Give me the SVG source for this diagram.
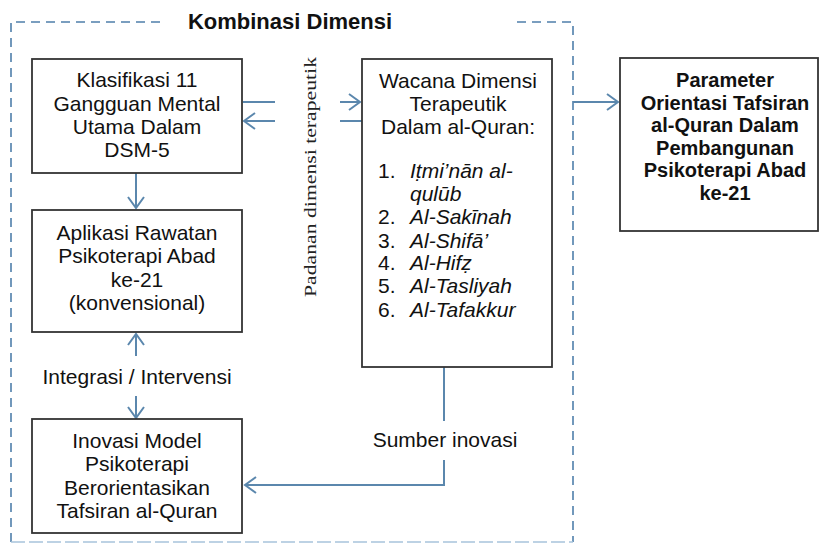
<svg xmlns="http://www.w3.org/2000/svg" width="820" height="547" viewBox="0 0 820 547">
<defs>
<marker id="ah" markerUnits="userSpaceOnUse" markerWidth="30" markerHeight="30" viewBox="-15 -15 30 30" refX="0" refY="0" orient="auto">
<path d="M-11,-8 L0,0 L-11,8" fill="none" stroke="#5b87ad" stroke-width="2"/>
</marker>
<style>
.box{fill:#fff;stroke:#333;stroke-width:1.8}
.t{font-family:"Liberation Sans",Arial,sans-serif;font-size:21px;fill:#111;text-anchor:middle}
.tb{font-family:"Liberation Sans",Arial,sans-serif;font-size:20px;font-weight:bold;fill:#111;text-anchor:middle}
.tl{font-family:"Liberation Sans",Arial,sans-serif;font-size:21px;fill:#111}
.it{font-style:italic}
.c{fill:none;stroke:#5b87ad;stroke-width:2}
.dash{fill:none;stroke:#4f7fab;stroke-width:1.6;stroke-dasharray:9 6}
</style>
</defs>
<rect width="820" height="547" fill="#fff"/>

<g id="frame">
<path class="dash" d="M160,22 H11 V542"/>
<path class="dash" d="M517,22 H573 V542"/>
<path d="M11,542 H573" fill="none" stroke="#a8c4dc" stroke-width="1.6" stroke-dasharray="14 4"/>
<text x="290" y="29" class="tb" style="font-size:22px">Kombinasi Dimensi</text>
</g>

<g id="connectors">
<line class="c" x1="136" y1="173" x2="136" y2="208" marker-end="url(#ah)"/>
<line class="c" x1="136" y1="356" x2="136" y2="334" marker-end="url(#ah)"/>
<line class="c" x1="136" y1="396" x2="136" y2="418" marker-end="url(#ah)"/>
<line class="c" x1="243" y1="102" x2="275" y2="102"/>
<line class="c" x1="275" y1="121" x2="244" y2="121" marker-end="url(#ah)"/>
<line class="c" x1="340" y1="102" x2="360" y2="102" marker-end="url(#ah)"/>
<line class="c" x1="340" y1="121" x2="362" y2="121"/>
<line class="c" x1="573" y1="102" x2="618" y2="102" marker-end="url(#ah)"/>
<line class="c" x1="444" y1="367" x2="444" y2="421"/>
<polyline class="c" points="444,460 444,485 245,485" marker-end="url(#ah)"/>
<text x="137" y="384" class="t">Integrasi / Intervensi</text>
<text x="445" y="447" class="t">Sumber inovasi</text>
<text transform="translate(316,177) rotate(-90)" text-anchor="middle" font-family="'Liberation Serif','Times New Roman',serif" font-size="17" fill="#222" textLength="240" lengthAdjust="spacingAndGlyphs">Padanan dimensi terapeutik</text>
</g>

<g id="klasifikasi">
<rect class="box" x="32" y="59" width="210" height="114"/>
<text class="t" x="137" y="87">Klasifikasi 11</text>
<text class="t" x="137" y="110.5">Gangguan Mental</text>
<text class="t" x="137" y="134">Utama Dalam</text>
<text class="t" x="137" y="157">DSM-5</text>
</g>

<g id="aplikasi">
<rect class="box" x="32" y="210" width="210" height="122"/>
<text class="t" x="137" y="240">Aplikasi Rawatan</text>
<text class="t" x="137" y="263">Psikoterapi Abad</text>
<text class="t" x="137" y="287">ke-21</text>
<text class="t" x="137" y="310">(konvensional)</text>
</g>

<g id="inovasi">
<rect class="box" x="32" y="419" width="210" height="114"/>
<text class="t" x="137" y="448">Inovasi Model</text>
<text class="t" x="137" y="471">Psikoterapi</text>
<text class="t" x="137" y="495">Berorientasikan</text>
<text class="t" x="137" y="518">Tafsiran al-Quran</text>
</g>

<g id="wacana">
<rect class="box" x="362" y="59" width="190" height="308"/>
<text class="t" x="458" y="88">Wacana Dimensi</text>
<text class="t" x="458" y="111">Terapeutik</text>
<text class="t" x="458" y="134">Dalam al-Quran:</text>
<text class="tl" x="378" y="178">1.</text><text class="tl it" x="410" y="178">Iṭmi’nān al-</text>
<text class="tl it" x="410" y="201">qulūb</text>
<text class="tl" x="378" y="224">2.</text><text class="tl it" x="410" y="224">Al-Sakīnah</text>
<text class="tl" x="378" y="248">3.</text><text class="tl it" x="410" y="248">Al-Shifā’</text>
<text class="tl" x="378" y="270">4.</text><text class="tl it" x="410" y="270">Al-Hifẓ</text>
<text class="tl" x="378" y="293">5.</text><text class="tl it" x="410" y="293">Al-Tasliyah</text>
<text class="tl" x="378" y="317">6.</text><text class="tl it" x="410" y="317">Al-Tafakkur</text>
</g>

<g id="parameter">
<rect class="box" x="620" y="58" width="198" height="173"/>
<text class="tb" x="725" y="87">Parameter</text>
<text class="tb" x="725" y="110">Orientasi Tafsiran</text>
<text class="tb" x="725" y="132">al-Quran Dalam</text>
<text class="tb" x="725" y="155">Pembangunan</text>
<text class="tb" x="725" y="177">Psikoterapi Abad</text>
<text class="tb" x="725" y="200">ke-21</text>
</g>
</svg>
